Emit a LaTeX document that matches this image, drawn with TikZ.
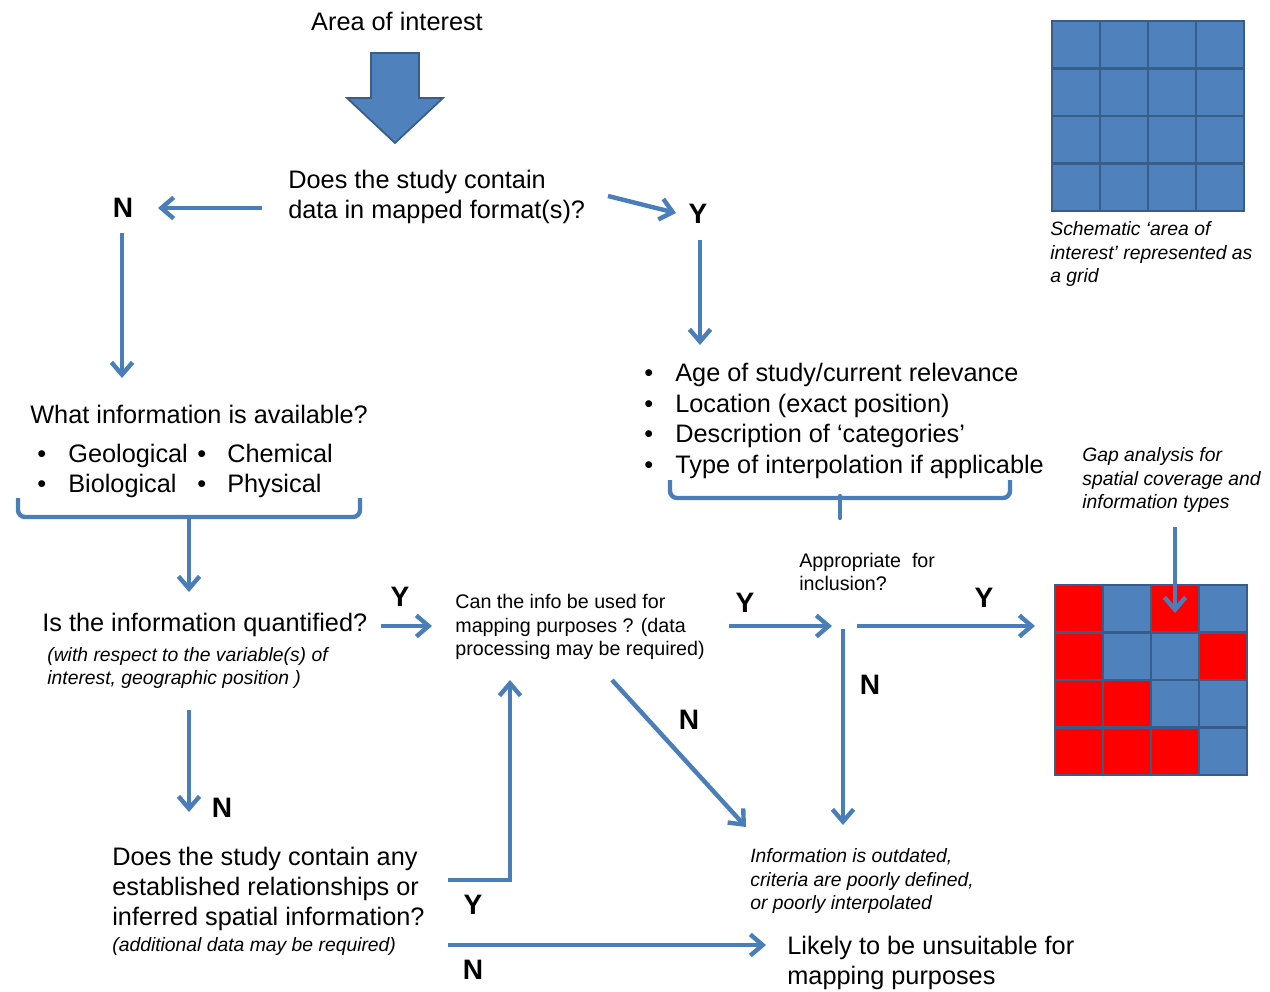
\documentclass[tikz,border=0pt]{standalone}
\usepackage{fontspec}
\setmainfont{Liberation Sans}
\usepackage{xcolor}
\usetikzlibrary{arrows.meta, positioning, calc}

\definecolor{flowblue}{RGB}{74,126,187}
\definecolor{cellblue}{RGB}{79,129,189}
\definecolor{celledge}{RGB}{56,93,138}
\definecolor{cellred}{RGB}{255,0,0}

\begin{document}
\begin{tikzpicture}[x=0.02cm, y=-0.02cm]
\tikzstyle{txt} = [anchor=west, inner sep=0pt, align=left, font=\fontsize{14.4}{17.3}\selectfont]
\tikzstyle{small} = [anchor=west, inner sep=0pt, align=left, font=\fontsize{11.2}{13.6}\selectfont]
\tikzstyle{note} = [anchor=west, inner sep=0pt, align=left, font=\fontsize{11}{13.6}\selectfont\itshape]
\tikzstyle{yn} = [inner sep=0pt, font=\fontsize{16}{18}\selectfont\bfseries]
\tikzstyle{flow} = [draw=flowblue, line width=2.5pt, -{Straight Barb[length=7pt,width=12pt]}]
\tikzstyle{brace} = [draw=flowblue, line width=2.5pt, rounded corners=4pt]
\tikzstyle{cell} = [draw=celledge, line width=1.6pt]

\useasboundingbox (0,0) rectangle (1270,991);

% Start
\node[txt, anchor=center] (aoi) at (397,21) {Area of interest};
\draw[fill=cellblue, draw=celledge, line width=1pt]
  (371,53) -- (419,53) -- (419,98) -- (443,98) -- (395,143) -- (347,98) -- (371,98) -- cycle;

% First question
\node[txt] (q1) at (288,197) {Does the study contain\\data in mapped format(s)?};
\node[yn] (n1) at (123,208) {N};
\node[yn] (y1) at (698,214) {Y};

% No branch
\node[txt] (avail) at (30,414) {What information is available?};
\node[txt] (types) at (37,471) {%
  \makebox[0.62cm][l]{\textbullet}\makebox[2.58cm][l]{Geological}\makebox[0.6cm][l]{\textbullet}Chemical\\
  \makebox[0.62cm][l]{\textbullet}\makebox[2.58cm][l]{Biological}\makebox[0.6cm][l]{\textbullet}Physical};
\node[txt] (quant) at (42,625) {Is the information quantified?};
\node[note] (quantnote) at (47,668) {(with respect to the variable(s) of\\interest, geographic position )};
\node[yn] (y2) at (400,597) {Y};
\node[yn] (n2) at (222,808) {N};
\node[txt] (q2) at (112,889) {Does the study contain any\\established relationships or\\inferred spatial information?};
\node[note] (q2note) at (112,946) {(additional data may be required)};
\node[yn] (y5) at (473,905) {Y};
\node[yn] (n5) at (473,970) {N};
\node[txt] (unsuit) at (787,963) {Likely to be unsuitable for\\mapping purposes};

% Yes branch
\node[txt] (crit) at (644,421) {%
  \makebox[0.62cm][l]{\textbullet}Age of study/current relevance\\
  \makebox[0.62cm][l]{\textbullet}Location (exact position)\\
  \makebox[0.62cm][l]{\textbullet}Description of ‘categories’\\
  \makebox[0.62cm][l]{\textbullet}Type of interpolation if applicable};
\node[small] (usable) at (455,627) {Can the info be used for\\mapping purposes ? (data\\processing may be required)};
\node[yn] (y3) at (745,603) {Y};
\node[small] (approp) at (799,572) {Appropriate\ \ for\\inclusion?};
\node[yn] (y4) at (984,598) {Y};
\node[yn] (n4) at (870,685) {N};
\node[yn] (n3) at (689,720) {N};
\node[note] (outdated) at (750,881) {Information is outdated,\\criteria are poorly defined,\\or poorly interpolated};

% Grids
\foreach \r in {0,...,3}
  \foreach \c in {0,...,3}
    \draw[cell, fill=cellblue] (1052+48*\c,21+47.5*\r) rectangle ++(48,47.5);
\node[note] (gridnote) at (1050,254) {Schematic ‘area of\\interest’ represented as\\a grid};
\foreach \r/\row in {0/{1,0,1,0}, 1/{1,0,0,1}, 2/{1,1,0,0}, 3/{1,1,1,0}}
  \foreach \v [count=\c from 0] in \row {
    \ifnum\v=1 \def\cellcol{cellred}\else \def\cellcol{cellblue}\fi
    \draw[cell, fill=\cellcol] (1055+48*\c,585+47.5*\r) rectangle ++(48,47.5);
  }
\node[note] (gapnote) at (1082,480) {Gap analysis for\\spatial coverage and\\information types};

% Connector points
\coordinate (a1) at (262,208);
\coordinate (a1e) at (158,208);
\coordinate (a2) at (608,196);
\coordinate (a2e) at (676,213);
\coordinate (a3) at (122,233);
\coordinate (a3e) at (122,378);
\coordinate (a4) at (700,240);
\coordinate (a4e) at (700,345);
\coordinate (b1) at (189,517);
\coordinate (b1e) at (189,592);
\coordinate (a5) at (381,626);
\coordinate (a5e) at (432,626);
\coordinate (a6) at (729,626);
\coordinate (a6e) at (832,626);
\coordinate (a7) at (857,626);
\coordinate (a7e) at (1035,626);
\coordinate (a8) at (843,629);
\coordinate (a8e) at (843,825);
\coordinate (a9) at (612,680);
\coordinate (a9e) at (746,827);
\coordinate (a10) at (189,710);
\coordinate (a10e) at (189,812);
\coordinate (a11) at (448,880);
\coordinate (a11e) at (510,680);
\coordinate (a12) at (448,945);
\coordinate (a12e) at (766,945);
\coordinate (a13) at (1175,527);
\coordinate (a13e) at (1175,613);
\coordinate (b2) at (840,496);

% Braces
\draw[brace] (18,498) -- (18,517) -- (360,517) -- (360,498);
\draw[brace] (670,480) -- (670,498) -- (1010,498) -- (1010,480);
\draw[draw=flowblue, line width=2.5pt, line cap=round] (b2) -- ++(0,22);

% Connections
\draw[flow] (a1) -- (a1e);
\draw[flow] (a2) -- (a2e);
\draw[flow] (a3) -- (a3e);
\draw[flow] (a4) -- (a4e);
\draw[flow] (b1) -- (b1e);
\draw[flow] (a5) -- (a5e);
\draw[flow] (a6) -- (a6e);
\draw[flow] (a7) -- (a7e);
\draw[flow] (a8) -- (a8e);
\draw[flow] (a9) -- (a9e);
\draw[flow] (a10) -- (a10e);
\draw[flow] (a11) -| (a11e);
\draw[flow] (a12) -- (a12e);
\draw[flow] (a13) -- (a13e);
\end{tikzpicture}
\end{document}
